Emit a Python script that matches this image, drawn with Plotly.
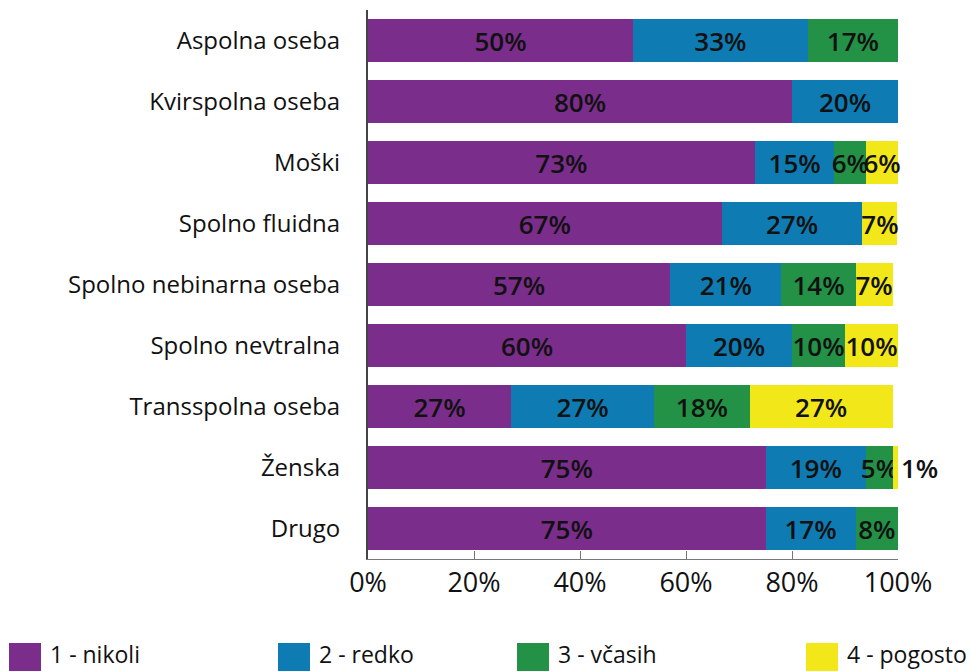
import plotly.graph_objects as go

categories = ["Aspolna oseba", "Kvirspolna oseba", "Moški", "Spolno fluidna",
              "Spolno nebinarna oseba", "Spolno nevtralna", "Transspolna oseba",
              "Ženska", "Drugo"]
series_names = ["1 - nikoli", "2 - redko", "3 - včasih", "4 - pogosto"]
nikoli = [50, 80, 73, 66.7, 57, 60, 27, 75, 75]
redko = [33, 20, 15, 26.6, 21, 20, 27, 19, 17]
vcasih = [17, 0, 6, 0, 14, 10, 18, 5, 8]
pogosto = [0, 0, 6, 6.6, 7, 10, 27, 1, 0]
colors = ["#7B2D8C", "#0E7BB3", "#239146", "#F2E819"]
x_ticks = [0, 20, 40, 60, 80, 100]
x_tick_labels = ["0%", "20%", "40%", "60%", "80%", "100%"]

W, H = 971, 671
L, R, T, B = 368, 73, 10, 112
FONT = "Open Sans"

fig = go.Figure()
for name, vals, col in zip(series_names, [nikoli, redko, vcasih, pogosto], colors):
    texts = [f"{round(v)}%" if v > 0 else "" for v in vals]
    if name == series_names[-1]:
        pos = ["outside" if (0 < v < 3) else "inside" for v in vals]
    else:
        pos = "inside"
    fig.add_trace(go.Bar(
        y=categories, x=vals, orientation="h", name=name,
        marker=dict(color=col, line=dict(width=0)),
        text=texts, textposition=pos, insidetextanchor="middle",
        textangle=0, constraintext="none", cliponaxis=False,
        textfont=dict(family=FONT, size=26, color="#111111", weight=600),
        insidetextfont=dict(family=FONT, size=26, color="#111111", weight=600),
        outsidetextfont=dict(family=FONT, size=26, color="#111111", weight=600),
        showlegend=False, hoverinfo="skip",
    ))

def px_x(p):
    return (p - L) / (W - L - R)

def px_y(p):
    return (H - B - p) / (H - T - B)

legend_sq_x = [9, 278, 517, 806]
for i, (name, col) in enumerate(zip(series_names, colors)):
    x0 = legend_sq_x[i]
    fig.add_shape(type="rect", xref="paper", yref="paper",
                  x0=px_x(x0), x1=px_x(x0 + 32), y0=px_y(643), y1=px_y(676),
                  fillcolor=col, line=dict(width=0))
    fig.add_annotation(xref="paper", yref="paper", x=px_x(x0 + 39), y=px_y(654),
                       text=name, showarrow=False, xanchor="left", yanchor="middle",
                       font=dict(family=FONT, size=23, color="#111111"))

fig.update_layout(
    width=W, height=H, barmode="stack", bargap=0.3,
    margin=dict(l=L, r=R, t=T, b=B, pad=0),
    plot_bgcolor="white", paper_bgcolor="white",
    uniformtext=dict(minsize=26, mode="show"),
    font=dict(family=FONT, color="#111111"),
    xaxis=dict(range=[0, 100], tickmode="array", tickvals=x_ticks, ticktext=x_tick_labels,
               showgrid=False, zeroline=False,
               showline=True, linecolor="#777777", linewidth=1,
               ticks="inside", ticklen=8, tickcolor="#777777", tickwidth=1,
               tickfont=dict(family=FONT, size=27, color="#111111")),
    yaxis=dict(categoryorder="array", categoryarray=categories, autorange="reversed",
               showgrid=False, zeroline=False,
               showline=True, linecolor="#444444", linewidth=2,
               ticks="", ticklabelstandoff=21,
               tickfont=dict(family=FONT, size=24, color="#111111")),
)

fig.write_html("out.html",
               config={"displayModeBar": False},
               post_script="document.body.style.margin='0';document.body.style.overflow='hidden';")
